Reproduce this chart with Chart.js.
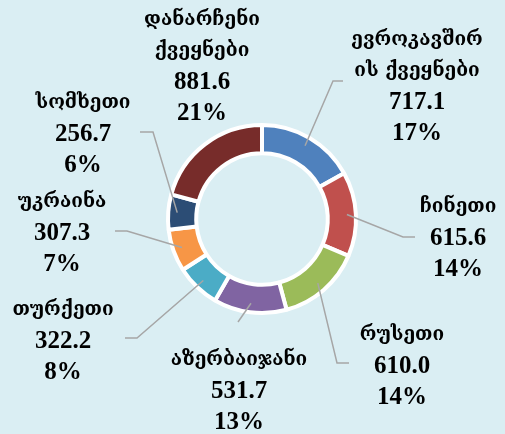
<!DOCTYPE html>
<html>
<head>
<meta charset="utf-8">
<script src="https://cdn.jsdelivr.net/npm/chart.js@4/dist/chart.umd.min.js"></script>
<style>
  html, body { margin: 0; padding: 0; background: #daeef3; }
  canvas { display: block; }
</style>
</head>
<body>
<canvas id="chart" width="505" height="434"></canvas>
<script>
// trade partners - values and shares as printed on the chart
const names = [
  ['ევროკავშირ', 'ის ქვეყნები'],
  ['ჩინეთი'],
  ['რუსეთი'],
  ['აზერბაიჯანი'],
  ['თურქეთი'],
  ['უკრაინა'],
  ['სომხეთი'],
  ['დანარჩენი', 'ქვეყნები']
];
const values = [717.1, 615.6, 610.0, 531.7, 322.2, 307.3, 256.7, 881.6];
const shares = ['17%', '14%', '14%', '13%', '8%', '7%', '6%', '21%'];
const colors = ['#4f81bd', '#c0504d', '#9bbb59', '#8064a2', '#4bacc6', '#f79646', '#2c4d75', '#772c2a'];

// label placement, offsets from the ring centre (text centre + leader elbow)
const labelLayout = [
  { tx: 155, ty: -179, ex: 71, ey: -138, hx: 81 },
  { tx: 196, ty: -12, ex: 141, ey: 18, hx: 153 },
  { tx: 140, ty: 116, ex: 75, ey: 144, hx: 87 },
  { tx: -23, ty: 141, ex: -24, ey: 103, hx: -24 },
  { tx: -199, ty: 91, ex: -125, ey: 119, hx: -137 },
  { tx: -200, ty: -17, ex: -135, ey: 12, hx: -147 },
  { tx: -179, ty: -116, ex: -109, ey: -87, hx: -122 },
  { tx: -60, ty: -199 }
];

const LINE_H = 31;
const nameFont = 'bold 19px "DejaVu Serif", serif';
const numFont = 'bold 25px "Liberation Serif", serif';

const calloutPlugin = {
  id: 'callouts',
  afterDatasetsDraw(chart) {
    const ctx = chart.ctx;
    const meta = chart.getDatasetMeta(0);
    meta.data.forEach((arc, i) => {
      const cx = arc.x, cy = arc.y;
      const lay = labelLayout[i];
      // leader line
      if (lay.ex !== undefined) {
        const mid = (arc.startAngle + arc.endAngle) / 2;
        const r = arc.outerRadius - 9;
        ctx.save();
        ctx.strokeStyle = '#a6a6a6';
        ctx.lineWidth = 1.5;
        ctx.beginPath();
        ctx.moveTo(cx + Math.cos(mid) * r, cy + Math.sin(mid) * r);
        ctx.lineTo(cx + lay.ex, cy + lay.ey);
        ctx.lineTo(cx + lay.hx, cy + lay.ey);
        ctx.stroke();
        ctx.restore();
      }
      // text block
      ctx.save();
      ctx.fillStyle = '#000';
      ctx.textAlign = 'center';
      ctx.textBaseline = 'middle';
      let y = cy + lay.ty;
      const x = cx + lay.tx;
      ctx.font = nameFont;
      names[i].forEach(line => { ctx.fillText(line, x, y); y += LINE_H; });
      ctx.font = numFont;
      ctx.fillText(values[i].toFixed(1), x, y + 1); y += LINE_H;
      ctx.fillText(shares[i], x, y + 1);
      ctx.restore();
    });
  }
};

new Chart(document.getElementById('chart'), {
  type: 'doughnut',
  data: {
    labels: names.map(n => n.join('')),
    datasets: [{
      data: values,
      backgroundColor: colors,
      borderColor: '#ffffff',
      borderWidth: 4
    }]
  },
  options: {
    responsive: false,
    animation: false,
    cutout: '70%',
    layout: { padding: { left: 166, right: 147, top: 123, bottom: 119 } },
    plugins: {
      legend: { display: false },
      tooltip: { enabled: false }
    }
  },
  plugins: [calloutPlugin]
});
</script>
</body>
</html>
